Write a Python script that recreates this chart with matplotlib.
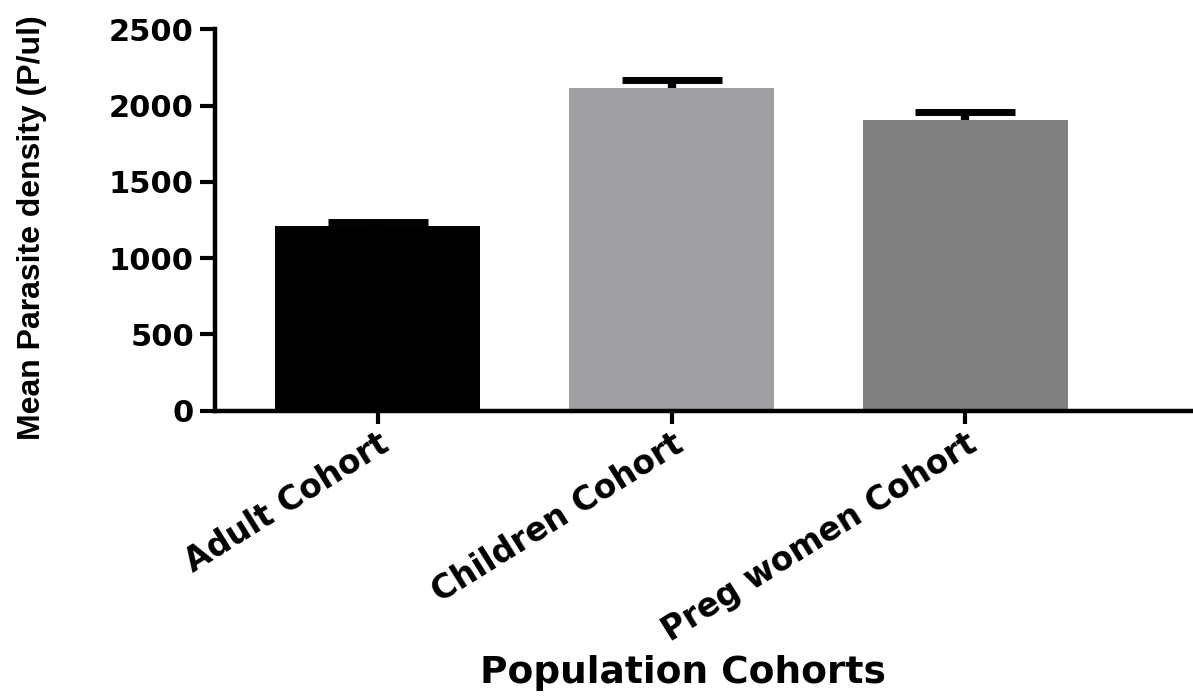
import matplotlib
matplotlib.use("Agg")
import matplotlib.pyplot as plt
import numpy as np

# Mean parasite density per cohort with upper error (P/ul)
cohorts = ["Adult Cohort", "Children Cohort", "Preg women Cohort"]
mean_density = [1210, 2118, 1905]
err_upper = [28, 50, 50]
bar_colors = ["#000000", "#a09fa4", "#808080"]
y_ticks = [0, 500, 1000, 1500, 2000, 2500]

fig = plt.figure(figsize=(11.93, 6.97), dpi=100)
ax = fig.add_axes([0.180, 0.411, 0.819, 0.547])

x = np.arange(len(cohorts))
ax.bar(x, mean_density, width=0.7, color=bar_colors, zorder=2)
_, caps, _ = ax.errorbar(x, mean_density,
                         yerr=[np.zeros(len(x)), err_upper], fmt="none",
                         ecolor="black", elinewidth=6, capsize=36,
                         capthick=5, zorder=3)
# one-sided error bars: hide the cap sitting on top of each bar
caps[0].set_visible(False)

ax.set_xlim(-0.554, 2.77)
ax.set_ylim(0, 2500)
ax.set_yticks(y_ticks)
ax.set_yticklabels([str(v) for v in y_ticks], fontsize=22,
                   fontweight="bold", family="DejaVu Sans")
ax.set_xticks(x)
ax.set_xticklabels(cohorts, rotation=32, ha="right", va="top",
                   rotation_mode="anchor", fontsize=23.5,
                   family="DejaVu Sans", fontweight="bold")

for s in ("top", "right"):
    ax.spines[s].set_visible(False)
for s in ("left", "bottom"):
    ax.spines[s].set_linewidth(3.2)
ax.tick_params(axis="y", length=11, width=3, pad=4)
ax.tick_params(axis="x", length=9, width=3, pad=3)

ax.set_ylabel("Mean Parasite density (P/ul)", fontsize=23,
              fontweight="bold", family="Liberation Sans")
ax.yaxis.set_label_coords(-0.172, 0.479)

ax.set_xlabel("Population Cohorts", fontsize=27, fontweight="bold",
              family="DejaVu Sans")
ax.xaxis.set_label_coords(0.479, -0.642)

fig.savefig("out.png", dpi=100)
